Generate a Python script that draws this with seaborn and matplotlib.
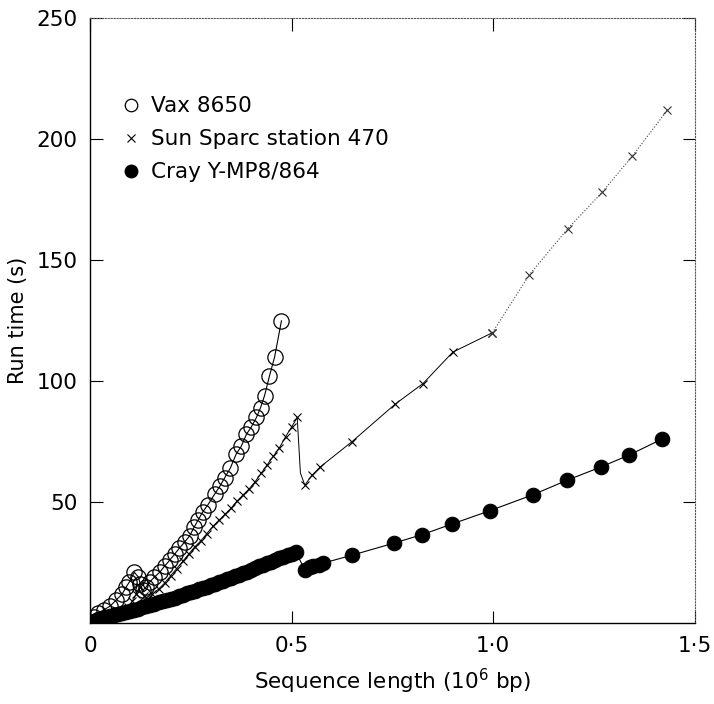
import numpy as np
import pandas as pd
import matplotlib
matplotlib.use("Agg")
import matplotlib.pyplot as plt
from matplotlib.lines import Line2D
import seaborn as sns

# series labels
vax_label = "Vax 8650"
sun_label = "Sun Sparc station 470"
cray_label = "Cray Y-MP8/864"

# Vax 8650 (open circles)
vax_x = [0.01, 0.02, 0.035, 0.05, 0.065, 0.08, 0.09, 0.098, 0.11, 0.12, 0.125, 0.131,
         0.14, 0.148, 0.16, 0.173, 0.185, 0.198, 0.21, 0.222, 0.235, 0.247, 0.258,
         0.268, 0.28, 0.293, 0.31, 0.322, 0.334, 0.348, 0.363, 0.375, 0.388, 0.4,
         0.413, 0.423, 0.433, 0.445, 0.458, 0.475]
vax_y = [2.5, 4, 5.5, 7, 9.5, 12, 15, 17, 21, 19, 16, 13.5,
         15, 17, 19, 21, 23.5, 26, 28.5, 31, 33.5, 36, 39.5,
         42.5, 46, 49, 53.5, 56.5, 60, 64, 70, 73, 78, 81,
         85, 89, 94, 102, 110, 125]

# Sun Sparc station 470 (crosses), measured part
sun_x = [0.02, 0.04, 0.06, 0.08, 0.095, 0.105, 0.115, 0.125, 0.135, 0.145, 0.155,
         0.17, 0.185, 0.2, 0.215, 0.23, 0.245, 0.26, 0.275, 0.29, 0.305, 0.32,
         0.335, 0.35, 0.365, 0.38, 0.395, 0.41, 0.425, 0.44, 0.455, 0.47, 0.485,
         0.5, 0.514, 0.522, 0.533, 0.55, 0.571, 0.65, 0.757, 0.826, 0.9, 0.998]
sun_y = [1, 2, 3, 4.5, 6.5, 9, 12, 15, 11, 10, 12,
         14, 16.5, 19.5, 22.5, 25.5, 28.5, 31.5, 34, 37, 40, 42.5,
         45, 47.5, 50.5, 53, 55.5, 58.5, 62, 65.5, 69, 72.5, 77,
         81, 85, 62, 57, 61, 64.5, 75, 90.5, 99, 112, 120]

# Sun Sparc station 470, faint dotted tail
sun_tail_x = [0.998, 1.09, 1.185, 1.27, 1.345, 1.432]
sun_tail_y = [120, 144, 163, 178, 193, 212]

# Cray Y-MP8/864 (filled circles)
cray_x = [0.01, 0.02, 0.03, 0.04, 0.05, 0.06, 0.07, 0.08, 0.09, 0.1, 0.11, 0.12,
          0.13, 0.14, 0.15, 0.16, 0.17, 0.18, 0.19, 0.2, 0.21, 0.22, 0.23, 0.24,
          0.25, 0.26, 0.27, 0.28, 0.29, 0.3, 0.31, 0.32, 0.33, 0.34, 0.35, 0.36,
          0.37, 0.38, 0.39, 0.4, 0.41, 0.42, 0.43, 0.44, 0.45, 0.46, 0.47, 0.48,
          0.49, 0.5, 0.51, 0.533, 0.545, 0.554, 0.567, 0.579, 0.649, 0.753, 0.823,
          0.899, 0.993, 1.098, 1.183, 1.267, 1.338, 1.418]
cray_y = [1, 1.5, 2, 2.5, 3, 3.3, 3.7, 4, 4.5, 5, 5.5, 6,
          6.5, 7, 7.5, 8, 8.5, 9, 9.5, 10, 10.5, 11, 11.7, 12.3,
          12.8, 13.3, 13.9, 14.5, 15, 15.7, 16.3, 16.9, 17.4, 18, 18.7, 19.3,
          20, 20.6, 21.3, 22, 22.7, 23.4, 24, 24.7, 25.3, 26, 26.7, 27.3,
          28, 28.7, 29.5, 22, 23, 23.5, 24.2, 24.8, 28, 33, 36.5,
          41, 46.5, 53, 59, 64.5, 69.5, 76]

x_ticks = [0, 0.5, 1.0, 1.5]
x_tick_labels = ["0", "0\u00b75", "1\u00b70", "1\u00b75"]
y_ticks = [50, 100, 150, 200, 250]
y_tick_labels = ["50", "100", "150", "200", "250"]

sns.set_style("ticks")
plt.rcParams['font.family'] = ['DejaVu Sans']
plt.rcParams['text.color'] = 'black'
plt.rcParams['axes.labelcolor'] = 'black'
plt.rcParams['xtick.color'] = 'black'
plt.rcParams['ytick.color'] = 'black'

fig = plt.figure(figsize=(7.14, 7.04), dpi=100)
ax = fig.add_axes([0.126, 0.115, 0.847, 0.859])

vax_df = pd.DataFrame({'x': vax_x, 'y': vax_y})
sun_df = pd.DataFrame({'x': sun_x, 'y': sun_y})
sun_tail_df = pd.DataFrame({'x': sun_tail_x, 'y': sun_tail_y})
cray_df = pd.DataFrame({'x': cray_x, 'y': cray_y})

sns.lineplot(data=cray_df, x='x', y='y', ax=ax, sort=False, color='black',
             linewidth=0.8, marker='o', markersize=10.5, markerfacecolor='black',
             markeredgecolor='black', legend=False)
# the point at x=0.522 only bends the line of the drop, so it gets no marker
sun_marked = [i for i in range(len(sun_x)) if sun_x[i] != 0.522]
sns.lineplot(data=sun_df, x='x', y='y', ax=ax, sort=False, color='black',
             linewidth=0.7, marker='x', markersize=6, markeredgewidth=0.8,
             markeredgecolor='black', markevery=sun_marked, legend=False)
sns.lineplot(data=sun_tail_df, x='x', y='y', ax=ax, sort=False, color='#444444',
             linewidth=0.8, linestyle=':', marker='x', markersize=6,
             markeredgewidth=0.8, markeredgecolor='#333333', legend=False)
sns.lineplot(data=vax_df, x='x', y='y', ax=ax, sort=False, color='black',
             linewidth=0.8, marker='o', markersize=11, markerfacecolor='none',
             markeredgecolor='black', markeredgewidth=0.9, legend=False)

ax.set_xlim(0, 1.5)
ax.set_ylim(0, 250)
ax.set_xticks(x_ticks)
ax.set_xticklabels(x_tick_labels)
ax.set_yticks(y_ticks)
ax.set_yticklabels(y_tick_labels)
ax.tick_params(direction='in', length=9, width=0.8, labelsize=15.5,
               top=True, right=True, pad=9)
ax.set_xlabel("Sequence length (10$^{6}$ bp)", fontsize=15.5, labelpad=8)
ax.set_ylabel("Run time (s)", fontsize=15, labelpad=6)

for side in ['left', 'bottom']:
    ax.spines[side].set_linewidth(1.0)
    ax.spines[side].set_color('black')
for side in ['top', 'right']:
    ax.spines[side].set_linestyle(':')
    ax.spines[side].set_linewidth(0.8)
    ax.spines[side].set_color('#555555')

handles = [
    Line2D([], [], linestyle='none', marker='o', markersize=9, markerfacecolor='none',
           markeredgecolor='black', markeredgewidth=0.9),
    Line2D([], [], linestyle='none', marker='x', markersize=6, markeredgecolor='black',
           markeredgewidth=0.8),
    Line2D([], [], linestyle='none', marker='o', markersize=9, markerfacecolor='black',
           markeredgecolor='black'),
]
ax.legend(handles, [vax_label, sun_label, cray_label], loc='upper left',
          bbox_to_anchor=(0.04, 0.885), frameon=False, fontsize=15.5,
          handlelength=0.8, handletextpad=0.5, labelspacing=0.6, borderaxespad=0)

fig.savefig("out.png", dpi=100)
